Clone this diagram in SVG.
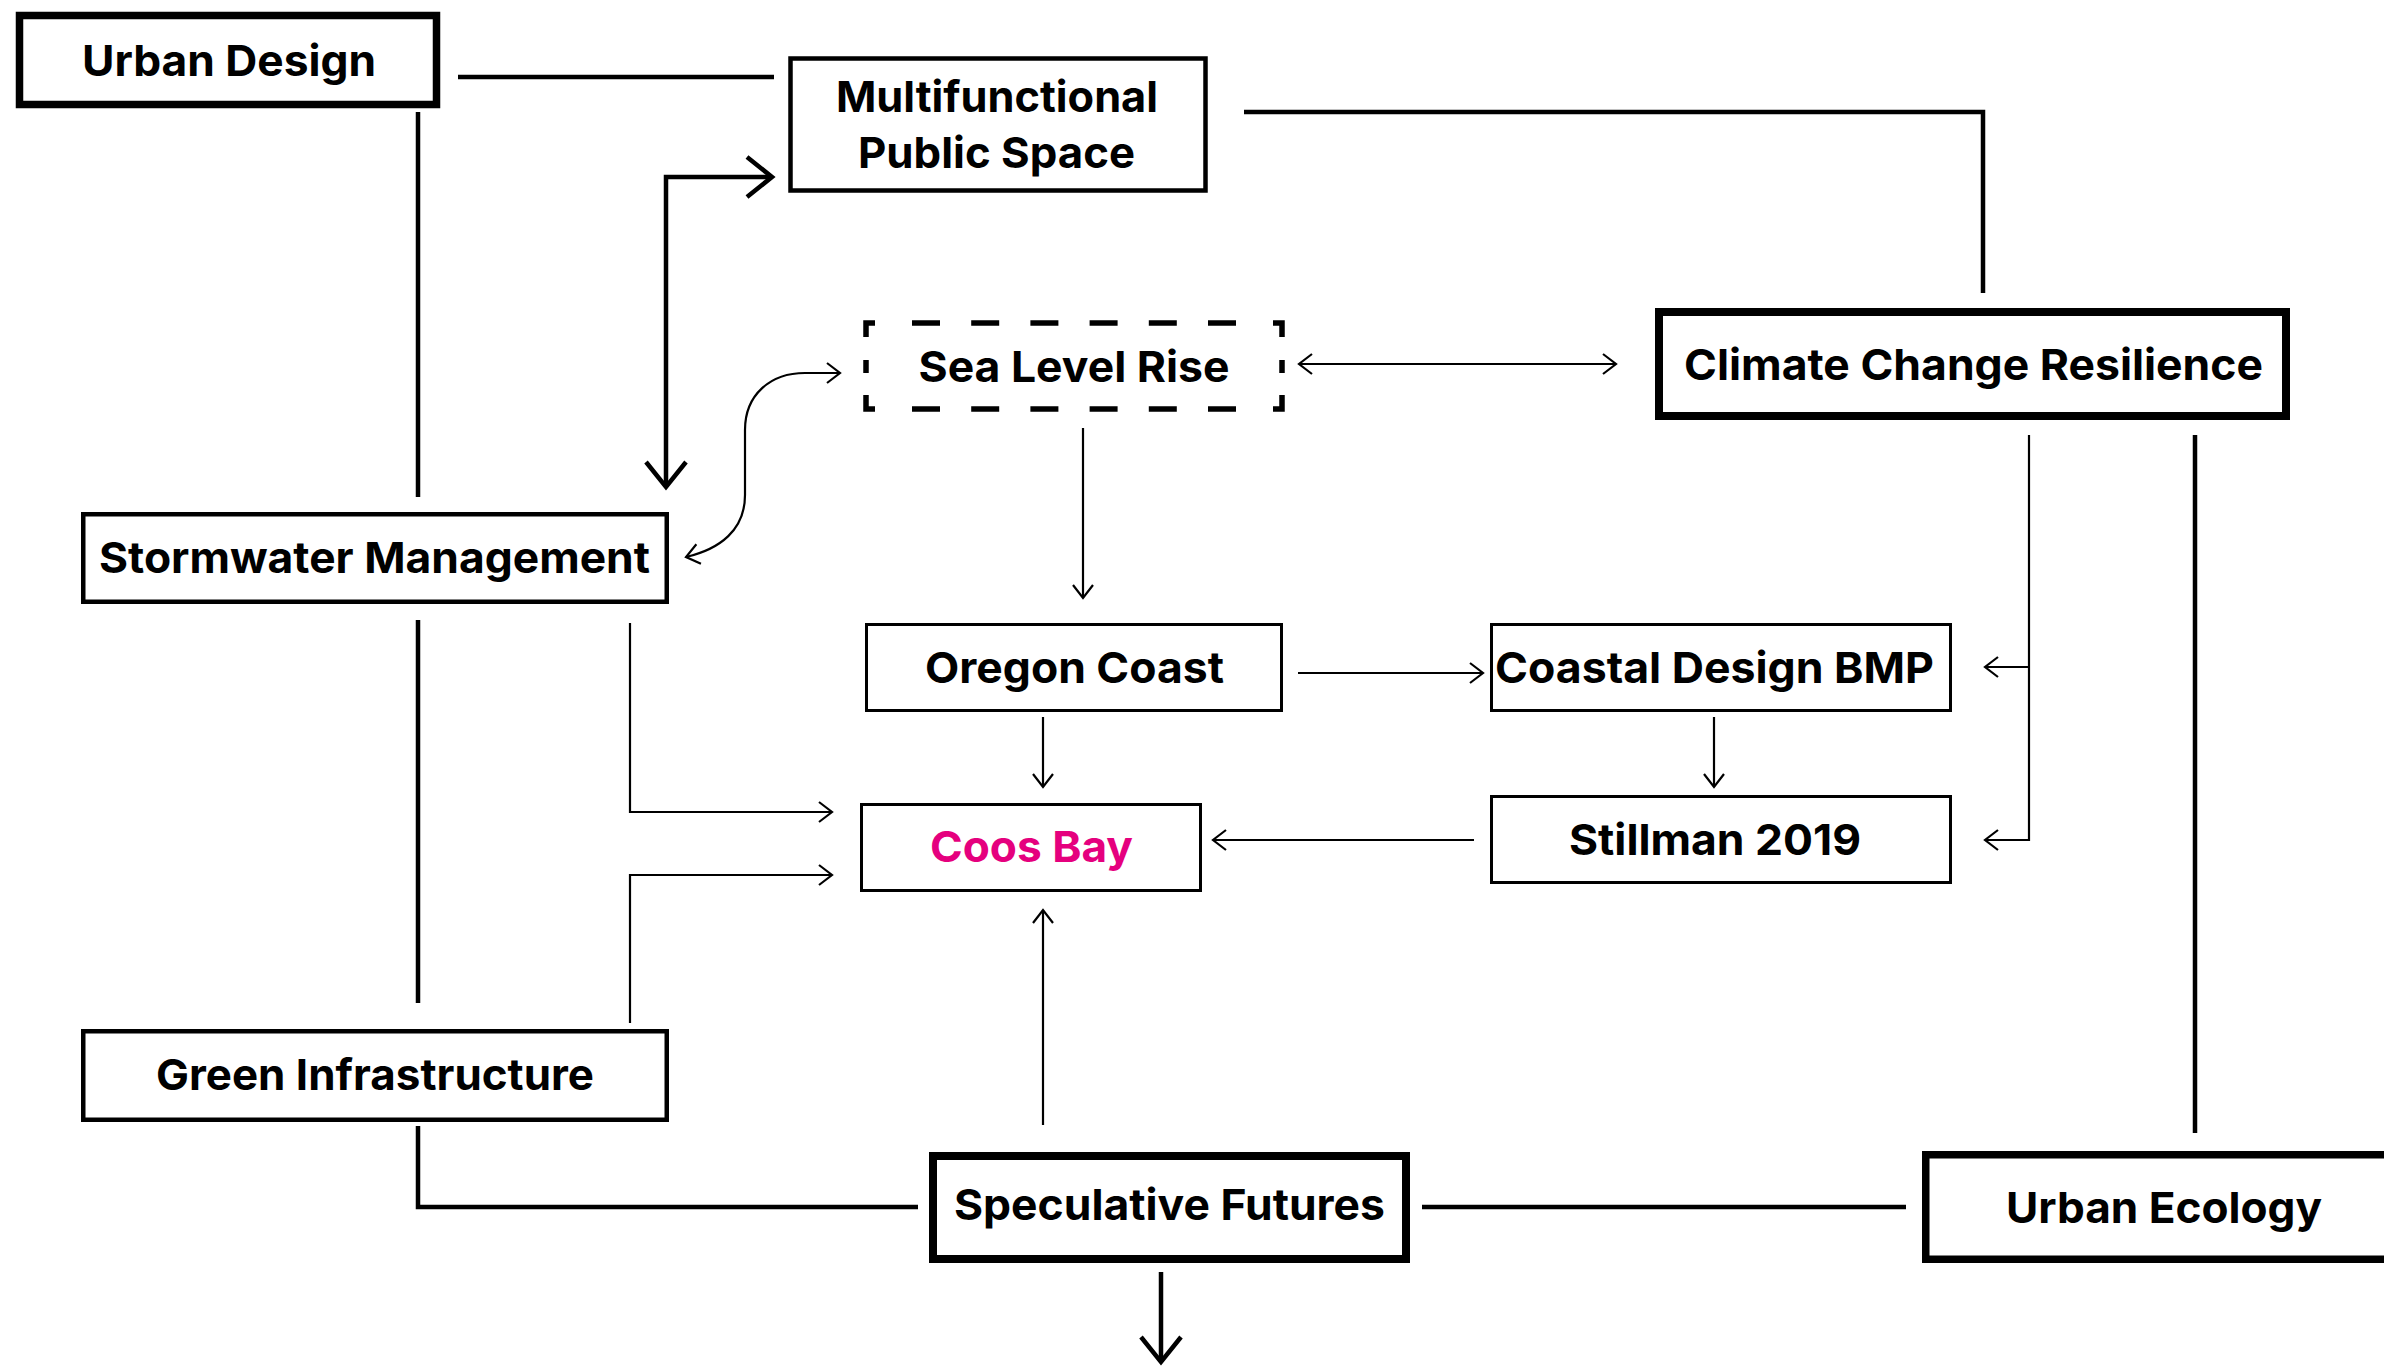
<svg xmlns="http://www.w3.org/2000/svg" width="2384" height="1366" viewBox="0 0 2384 1366">
  <style>
    .box { fill: #ffffff; stroke: #000000; }
    .thick { stroke-width: 7.5; }
    .mid { stroke-width: 4.5; }
    .thin { stroke-width: 3; }
    .lbl { font-family: Inter, "Open Sans", "Liberation Sans", sans-serif; font-weight: 700; font-size: 43px; fill: #000000; text-anchor: middle; }
    .pink { fill: #e5007e; }
    .cw { fill: none; stroke: #000000; stroke-width: 4.5; stroke-linejoin: miter; }
    .cn { fill: none; stroke: #000000; stroke-width: 2.2; stroke-linejoin: miter; }
    .dash { fill: none; stroke: #000000; stroke-width: 5.5; stroke-linejoin: miter; }
  </style>
  <defs>
    <marker id="ah-thin" markerUnits="userSpaceOnUse" markerWidth="20" markerHeight="26" viewBox="-17 -13 20 26" refX="0" refY="0" orient="auto-start-reverse" overflow="visible">
      <path d="M-13,-10 L0,0 L-13,10" fill="none" stroke="#000000" stroke-width="2.2"/>
    </marker>
    <marker id="ah-thick" markerUnits="userSpaceOnUse" markerWidth="34" markerHeight="48" viewBox="-30 -24 34 48" refX="0" refY="0" orient="auto-start-reverse" overflow="visible">
      <path d="M-25,-20 L0,0 L-25,20" fill="none" stroke="#000000" stroke-width="4.5"/>
    </marker>
  </defs>
  <rect x="0" y="0" width="2384" height="1366" fill="#ffffff"/>

  <g id="connectors">
    <path class="cw" d="M458,77 H774"/>
    <path class="cw" d="M418,112 V497"/>
    <path class="cw" d="M666,487 V177 H772" marker-start="url(#ah-thick)" marker-end="url(#ah-thick)"/>
    <path class="cw" d="M1244,112 H1983 V293"/>
    <path class="cn" d="M1299,364 H1616" marker-start="url(#ah-thin)" marker-end="url(#ah-thin)"/>
    <path class="cn" d="M686,557 C720,549 745,530 745,495 L745,430 C745,395 770,373 805,373 L840,373" marker-start="url(#ah-thin)" marker-end="url(#ah-thin)"/>
    <path class="cn" d="M1083,428 V598" marker-end="url(#ah-thin)"/>
    <path class="cn" d="M2029,435 V840 H1985" marker-end="url(#ah-thin)"/>
    <path class="cn" d="M2029,667 H1985" marker-end="url(#ah-thin)"/>
    <path class="cw" d="M2195,435 V1133"/>
    <path class="cw" d="M418,620 V1003"/>
    <path class="cn" d="M630,623 V812 H832" marker-end="url(#ah-thin)"/>
    <path class="cn" d="M630,1023 V875 H832" marker-end="url(#ah-thin)"/>
    <path class="cn" d="M1298,673 H1483" marker-end="url(#ah-thin)"/>
    <path class="cn" d="M1043,717 V787" marker-end="url(#ah-thin)"/>
    <path class="cn" d="M1714,717 V787" marker-end="url(#ah-thin)"/>
    <path class="cn" d="M1474,840 H1213" marker-end="url(#ah-thin)"/>
    <path class="cn" d="M1043,1125 V910" marker-end="url(#ah-thin)"/>
    <path class="cw" d="M418,1126 V1207 H918"/>
    <path class="cw" d="M1422,1207 H1906"/>
    <path class="cw" d="M1161,1272 V1362" marker-end="url(#ah-thick)"/>
  </g>

  <g id="urban-design">
    <rect class="box thick" x="19.5" y="15.5" width="417" height="89"/>
    <text class="lbl" x="229" y="76" textLength="294" lengthAdjust="spacingAndGlyphs">Urban Design</text>
  </g>

  <g id="multifunctional-public-space">
    <rect class="box mid" x="790.5" y="58.5" width="415" height="132"/>
    <text class="lbl" x="997" y="112" textLength="322" lengthAdjust="spacingAndGlyphs">Multifunctional</text>
    <text class="lbl" x="996.5" y="168" textLength="277" lengthAdjust="spacingAndGlyphs">Public Space</text>
  </g>

  <g id="sea-level-rise">
    <path class="dash" d="M866,337 V323 H875 M1273,323 H1282 V337 M866,395 V409 H875 M1273,409 H1282 V395 M866,360 V373 M1282,360 V373"/>
    <path class="dash" d="M912,323 H1237 M912,409 H1237" stroke-dasharray="28 31.2"/>
    <text class="lbl" x="1074" y="382" textLength="311" lengthAdjust="spacingAndGlyphs">Sea Level Rise</text>
  </g>

  <g id="climate-change-resilience">
    <rect class="box" stroke-width="8" x="1659" y="312" width="627" height="104"/>
    <text class="lbl" x="1973.5" y="380" textLength="579" lengthAdjust="spacingAndGlyphs">Climate Change Resilience</text>
  </g>

  <g id="stormwater-management">
    <rect class="box mid" x="83.25" y="514.25" width="583.5" height="87.5"/>
    <text class="lbl" x="374.5" y="573" textLength="551" lengthAdjust="spacingAndGlyphs">Stormwater Management</text>
  </g>

  <g id="oregon-coast">
    <rect class="box thin" x="866.5" y="624.5" width="415" height="86"/>
    <text class="lbl" x="1074.5" y="683" textLength="299" lengthAdjust="spacingAndGlyphs">Oregon Coast</text>
  </g>

  <g id="coastal-design-bmp">
    <rect class="box thin" x="1491.5" y="624.5" width="459" height="86"/>
    <text class="lbl" x="1714.5" y="683" textLength="439" lengthAdjust="spacingAndGlyphs">Coastal Design BMP</text>
  </g>

  <g id="coos-bay">
    <rect class="box thin" x="861.5" y="804.5" width="339" height="86"/>
    <text class="lbl pink" x="1031.5" y="862" textLength="203" lengthAdjust="spacingAndGlyphs">Coos Bay</text>
  </g>

  <g id="stillman-2019">
    <rect class="box thin" x="1491.5" y="796.5" width="459" height="86"/>
    <text class="lbl" x="1715" y="855" textLength="292" lengthAdjust="spacingAndGlyphs">Stillman 2019</text>
  </g>

  <g id="green-infrastructure">
    <rect class="box mid" x="83.25" y="1031.25" width="583.5" height="88.5"/>
    <text class="lbl" x="375" y="1090" textLength="438" lengthAdjust="spacingAndGlyphs">Green Infrastructure</text>
  </g>

  <g id="speculative-futures">
    <rect class="box" stroke-width="8" x="933" y="1156" width="473" height="103"/>
    <text class="lbl" x="1169.5" y="1220" textLength="431" lengthAdjust="spacingAndGlyphs">Speculative Futures</text>
  </g>

  <g id="urban-ecology">
    <rect class="box thick" x="1925.75" y="1154.75" width="500" height="104.5"/>
    <text class="lbl" x="2164" y="1223" textLength="316" lengthAdjust="spacingAndGlyphs">Urban Ecology</text>
  </g>
</svg>
